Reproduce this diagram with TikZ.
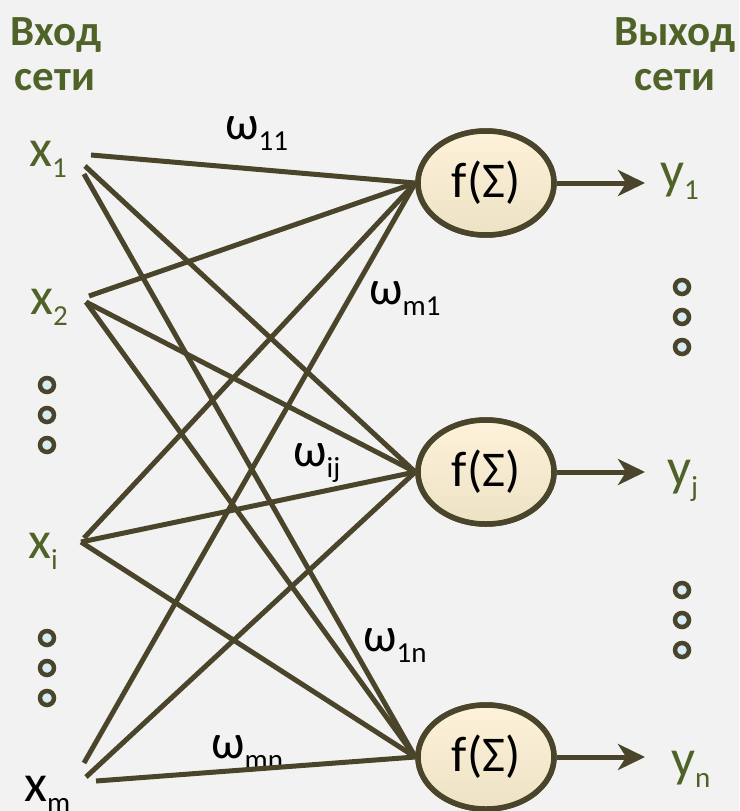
\documentclass[tikz,border=0pt]{standalone}
\usepackage{fontspec}
\setmainfont{Carlito}
\usetikzlibrary{arrows.meta,shapes.geometric}
\definecolor{bgc}{RGB}{242,242,242}
\definecolor{linec}{RGB}{74,68,42}
\definecolor{greenc}{RGB}{79,98,40}
\definecolor{dotfill}{RGB}{215,236,244}
\definecolor{neutop}{RGB}{254,242,218}
\definecolor{neubot}{RGB}{236,226,196}
\newcommand{\mylbl}[2]{#1\raisebox{-11pt}{\fontsize{29}{32}\selectfont #2}}
\tikzset{
  wire/.style={draw=linec,line width=5pt},
  neuron/.style={ellipse,draw=linec,line width=5.5pt,minimum width=136pt,minimum height=104pt,inner sep=0pt,top color=neutop,bottom color=neubot,font=\fontsize{50}{58}\selectfont},
  inlbl/.style={anchor=base west,inner sep=0pt,text=greenc,font=\fontsize{53}{60}\selectfont},
  wlbl/.style={anchor=base west,inner sep=0pt,text=black,font=\fontsize{48}{56}\selectfont},
  ttl/.style={anchor=base,inner sep=0pt,text=greenc,font=\bfseries\fontsize{43}{50}\selectfont},
  dotc/.style={circle,draw=linec,fill=dotfill,line width=4.5pt,minimum size=14pt,inner sep=0pt},
  outarrow/.style={draw=linec,line width=5pt,-{Stealth[length=27pt,width=26pt,inset=8pt]}}
}
\begin{document}
\begin{tikzpicture}[x=1pt,y=-1pt]
\fill[bgc] (0,0) rectangle (739,811);
\useasboundingbox (0,0) rectangle (739,811);
% titles
\node[ttl] (t1) at (56,45) {Вход};
\node[ttl] (t2) at (55,90) {сети};
\node[ttl] (t3) at (675,45) {Выход};
\node[ttl] (t4) at (675,90) {сети};
% neurons
\node[neuron] (f1) at (486,183) {f(Σ)};
\node[neuron] (f2) at (486,472) {f(Σ)};
\node[neuron] (f3) at (486,757) {f(Σ)};
% input labels
\node[inlbl] (x1) at (29,166) {\mylbl{x}{1}};
\node[inlbl] (x2) at (30,314) {\mylbl{x}{2}};
\node[inlbl] (xi) at (28,558) {\mylbl{x}{i}};
\node[inlbl,text=black] (xm) at (24,801) {\mylbl{x}{m}};
% output labels
\node[inlbl] (y1) at (660,188) {\mylbl{y}{1}};
\node[inlbl] (yj) at (667,485) {\mylbl{y}{j}};
\node[inlbl] (yn) at (671,776) {\mylbl{y}{n}};
% weight labels
\node[wlbl] (w11) at (225,139) {\mylbl{ω}{11}};
\node[wlbl] (wm1) at (369,304) {\mylbl{ω}{m1}};
\node[wlbl] (wij) at (293,466) {\mylbl{ω}{ij}};
\node[wlbl] (w1n) at (363,651) {\mylbl{ω}{1n}};
\node[wlbl] (wmn) at (211,758) {\mylbl{ω}{mn}};
% wire start points
\coordinate (s1a) at (91,155);
\coordinate (s1b) at (85,166);
\coordinate (s1c) at (84,174);
\coordinate (s2a) at (89,296);
\coordinate (s2b) at (86,302);
\coordinate (sia) at (84,538);
\coordinate (sib) at (81,542);
\coordinate (sma) at (84,763);
\coordinate (smb) at (86,777);
\coordinate (smc) at (96,781);
% wires
\draw[wire] (s1a) -- (f1.west);
\draw[wire] (s1b) -- (f2.west);
\draw[wire] (s1c) -- (f3.west);
\draw[wire] (s2a) -- (f1.west);
\draw[wire] (s2b) -- (f2.west);
\draw[wire] (s2b) -- (f3.west);
\draw[wire] (sia) -- (f1.west);
\draw[wire] (sib) -- (f2.west);
\draw[wire] (sib) -- (f3.west);
\draw[wire] (sma) -- (f1.west);
\draw[wire] (smb) -- (f2.west);
\draw[wire] (smc) -- (f3.west);
% redraw neurons on top
\node[neuron] at (f1) {f(Σ)};
\node[neuron] at (f2) {f(Σ)};
\node[neuron] at (f3) {f(Σ)};
% output arrows
\coordinate (e1) at (645,183);
\coordinate (e2) at (645,472);
\coordinate (e3) at (645,757);
\draw[outarrow] (f1.east) -- (e1);
\draw[outarrow] (f2.east) -- (e2);
\draw[outarrow] (f3.east) -- (e3);
% dots
\node[dotc] (d1) at (47,385) {};
\node[dotc] (d2) at (47,415) {};
\node[dotc] (d3) at (47,445) {};
\node[dotc] (d4) at (47,638) {};
\node[dotc] (d5) at (47,668) {};
\node[dotc] (d6) at (47,698) {};
\node[dotc] (d7) at (682,287) {};
\node[dotc] (d8) at (682,317) {};
\node[dotc] (d9) at (682,347) {};
\node[dotc] (d10) at (682,590) {};
\node[dotc] (d11) at (682,620) {};
\node[dotc] (d12) at (682,650) {};
\end{tikzpicture}
\end{document}
